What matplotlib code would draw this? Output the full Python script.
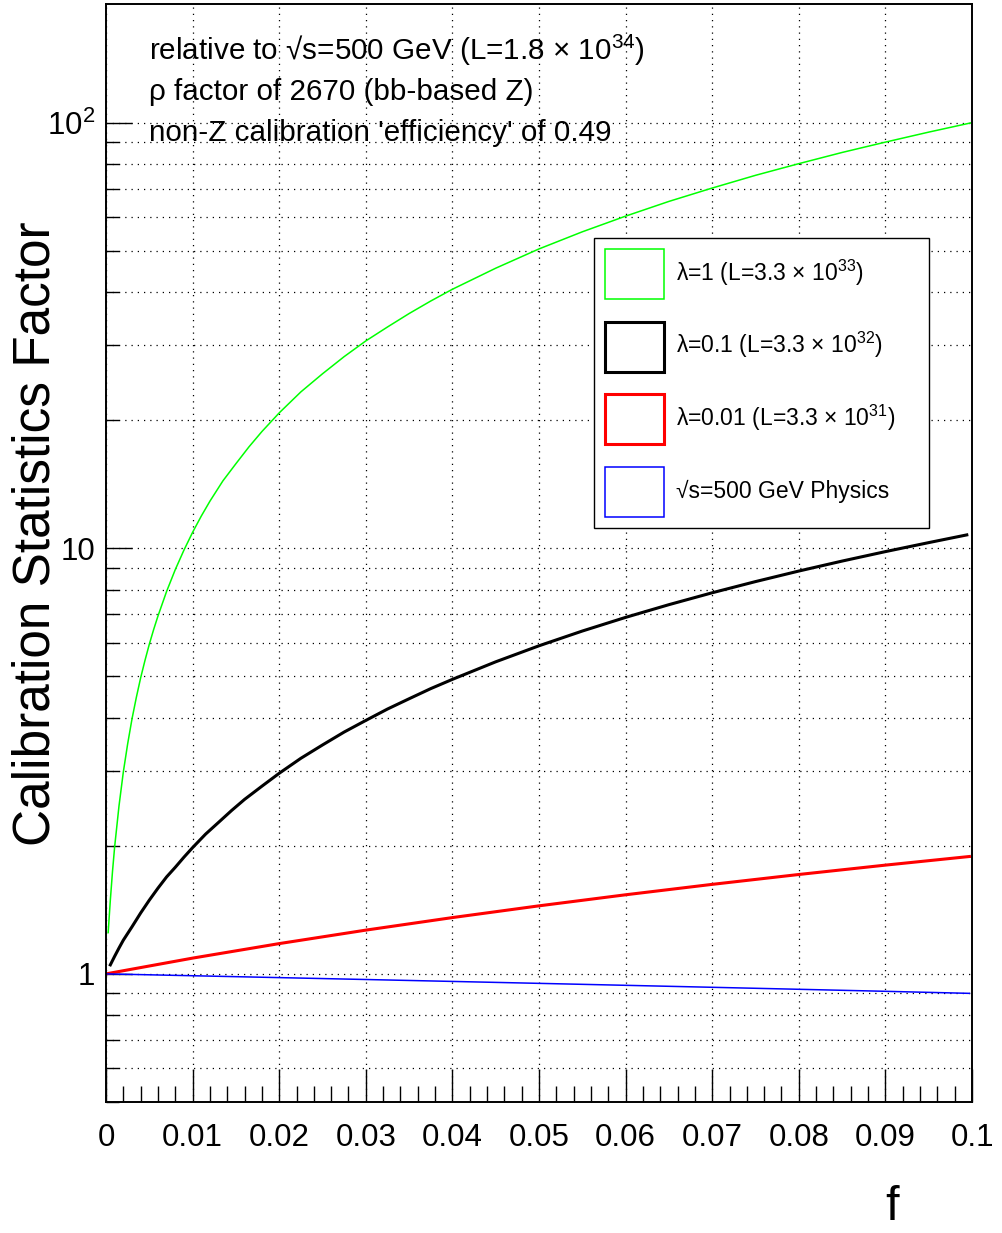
import numpy as np
import matplotlib
matplotlib.use("Agg")
import matplotlib.pyplot as plt
from matplotlib.patches import Patch
from matplotlib.ticker import MultipleLocator, LogLocator, NullFormatter

plt.rcParams['font.family'] = ['Liberation Sans', 'DejaVu Sans']
plt.rcParams['mathtext.fontset'] = 'custom'
plt.rcParams['mathtext.rm'] = 'Liberation Sans'
plt.rcParams['mathtext.it'] = 'Liberation Sans:italic'
plt.rcParams['mathtext.bf'] = 'Liberation Sans:bold'

# values
f_green = [0.00025, 0.0005, 0.00075, 0.001, 0.0015, 0.002, 0.0025, 0.003, 0.0035,
           0.004, 0.0045, 0.005, 0.0055, 0.006, 0.007, 0.008, 0.009, 0.01, 0.011,
           0.012, 0.0135, 0.015, 0.0165, 0.018, 0.02, 0.0225, 0.025, 0.0275, 0.03,
           0.0325, 0.035, 0.0375, 0.04, 0.045, 0.05, 0.055, 0.06, 0.065, 0.07,
           0.075, 0.08, 0.085, 0.09, 0.095, 0.0998]
green = [1.25, 1.49, 1.74, 1.99, 2.48, 2.98, 3.47, 3.97, 4.46,
         4.96, 5.45, 5.95, 6.44, 6.93, 7.92, 8.91, 9.90, 10.9, 11.9,
         12.9, 14.4, 15.8, 17.3, 18.8, 20.8, 23.3, 25.7, 28.2, 30.7,
         33.1, 35.6, 38.1, 40.6, 45.5, 50.5, 55.4, 60.3, 65.3, 70.2,
         75.2, 80.1, 85.1, 90.0, 95.0, 99.8]

f_black = [0.0005, 0.001, 0.0015, 0.002, 0.003, 0.004, 0.005, 0.006, 0.007, 0.008,
           0.009, 0.01, 0.0115, 0.013, 0.0145, 0.016, 0.018, 0.02, 0.0225, 0.025,
           0.0275, 0.03, 0.0325, 0.035, 0.0375, 0.04, 0.045, 0.05, 0.055, 0.06,
           0.065, 0.07, 0.075, 0.08, 0.085, 0.09, 0.095, 0.0994]
black = [1.05, 1.10, 1.15, 1.20, 1.29, 1.39, 1.49, 1.59, 1.69, 1.78,
         1.88, 1.98, 2.13, 2.27, 2.42, 2.57, 2.76, 2.96, 3.21, 3.45,
         3.70, 3.94, 4.19, 4.43, 4.68, 4.92, 5.41, 5.90, 6.39, 6.88,
         7.37, 7.86, 8.35, 8.84, 9.33, 9.82, 10.31, 10.75]

f_lin = [0.0, 0.01, 0.02, 0.03, 0.04, 0.05, 0.06, 0.07, 0.08, 0.09, 0.0997]
red = [1.0, 1.089, 1.178, 1.267, 1.356, 1.445, 1.534, 1.623, 1.712, 1.801, 1.887]
blue = [1.0, 0.99, 0.98, 0.97, 0.96, 0.95, 0.94, 0.93, 0.92, 0.91, 0.90]

x_ticks = [0.0, 0.01, 0.02, 0.03, 0.04, 0.05, 0.06, 0.07, 0.08, 0.09, 0.1]
x_labels = ['0', '0.01', '0.02', '0.03', '0.04', '0.05', '0.06', '0.07', '0.08', '0.09', '0.1']
y_ticks = [1, 10, 100]
y_labels = ['1', '10', '$10^{2}$']

legend_labels = [r'λ=1 (L=3.3 × $10^{33}$)',
                 r'λ=0.1 (L=3.3 × $10^{32}$)',
                 r'λ=0.01 (L=3.3 × $10^{31}$)',
                 '√s=500 GeV Physics']
info_lines = [r'relative to √s=500 GeV (L=1.8 × $10^{34}$)',
              'ρ factor of 2670 (bb-based Z)',
              "non-Z calibration 'efficiency' of 0.49"]

fig = plt.figure(figsize=(10.02, 12.33), dpi=100)
ax = fig.add_axes([106 / 1002, 1 - 1102 / 1233, 866 / 1002, 1098 / 1233])

ax.plot(f_green, green, color='#00ff00', lw=1.1)
ax.plot(f_black, black, color='black', lw=2.2)
ax.plot(f_lin, red, color='#ff0000', lw=2.2)
ax.plot(f_lin, blue, color='#0000ff', lw=1.1)

ax.set_yscale('log')
ax.set_xlim(0, 0.1)
ax.set_ylim(0.5, 190)

ax.set_xticks(x_ticks)
ax.set_xticklabels(x_labels, fontsize=22.5)
ax.xaxis.set_minor_locator(MultipleLocator(0.002))
ax.set_yticks(y_ticks)
ax.set_yticklabels(y_labels, fontsize=22.5)
ax.yaxis.set_minor_locator(LogLocator(base=10, subs=np.arange(2, 10)))
ax.yaxis.set_minor_formatter(NullFormatter())

ax.tick_params(axis='x', which='major', direction='in', length=23.7, width=1, pad=15)
ax.tick_params(axis='x', which='minor', direction='in', length=11.5, width=1)
ax.tick_params(axis='y', which='major', direction='in', length=18.7, width=1, pad=8)
ax.tick_params(axis='y', which='minor', direction='in', length=9.4, width=1)

dots = (0, (1, 4))
ax.grid(True, axis='x', which='major', color='black', lw=0.9, linestyle=dots)
ax.grid(True, axis='y', which='both', color='black', lw=0.9, linestyle=dots)
for s in ax.spines.values():
    s.set_linewidth(1.4)

handles = [Patch(facecolor='none', edgecolor='#00ff00', lw=1.1),
           Patch(facecolor='none', edgecolor='black', lw=2.2),
           Patch(facecolor='none', edgecolor='#ff0000', lw=2.2),
           Patch(facecolor='none', edgecolor='#0000ff', lw=1.1)]
leg = ax.legend(handles, legend_labels, loc='upper left',
                bbox_to_anchor=(0.5635, 0.5255, 0.3868, 0.2614), mode='expand',
                borderaxespad=0, fontsize=16.5, handlelength=2.58, handleheight=3.0,
                labelspacing=0.97, borderpad=0.48, handletextpad=0.52,
                fancybox=False, framealpha=1)
leg.get_frame().set_edgecolor('black')
leg.get_frame().set_linewidth(1.0)

for i, line in enumerate(info_lines):
    fig.text(149 / 1002, 1 - (50 + 41.5 * i) / 1233, line, fontsize=21.3, va='center', ha='left')

fig.text(36 / 1002, 1 - 534 / 1233, 'Calibration Statistics Factor', fontsize=37,
         rotation=90, va='center', ha='center')
fig.text(892 / 1002, 1 - 1207 / 1233, 'f', fontsize=35, va='center', ha='center')

fig.savefig('out.png', dpi=100)
